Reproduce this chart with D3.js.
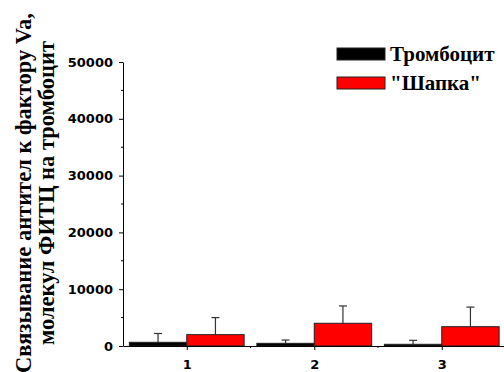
<!DOCTYPE html>
<html>
<head>
<meta charset="utf-8">
<script src="https://cdn.jsdelivr.net/npm/d3@7"></script>
<style>
body { margin: 0; background: #fff; }
svg { display: block; }
.tick text { font-family: "DejaVu Sans", sans-serif; font-weight: bold; font-size: 13px; fill: #000; }
.ytitle, .legend text { font-family: "Liberation Serif", "Times New Roman", serif; font-weight: bold; fill: #000; }
</style>
</head>
<body>
<svg></svg>
<script>
var categories = [1, 2, 3];
var seriesNames = ["Тромбоцит", "\"Шапка\""];
var seriesColors = ["#000000", "#ff0000"];
var plateletMean = [650, 470, 300];
var plateletErr = [1550, 580, 700];
var capMean = [2000, 4000, 3400];
var capErr = [3000, 3050, 3450];
var yTicks = [0, 10000, 20000, 30000, 40000, 50000];
var yTitle = ["Связывание антител к фактору Va,", "молекул ФИТЦ на тромбоцит"];

var W = 504, H = 372;
var svg = d3.select("svg").attr("width", W).attr("height", H);

var x = d3.scaleLinear().domain([0.5, 3.5]).range([123, 505.5]);
var y = d3.scaleLinear().domain([0, 50000]).range([346, 62]);
var barW = 0.45;

var series = [
    { name: seriesNames[0], color: seriesColors[0], mean: plateletMean, err: plateletErr, off: -barW },
    { name: seriesNames[1], color: seriesColors[1], mean: capMean, err: capErr, off: 0 }
];

// error bars first, bars cover the lower half
series.forEach(function (s) {
    var eb = svg.append("g").attr("stroke", "#333").attr("stroke-width", 1.2);
    categories.forEach(function (c, i) {
        var cx = x(c + s.off + barW / 2);
        eb.append("line")
            .attr("x1", cx).attr("x2", cx)
            .attr("y1", y(s.mean[i])).attr("y2", y(s.mean[i] + s.err[i]));
        eb.append("line")
            .attr("x1", cx - 4).attr("x2", cx + 4)
            .attr("y1", y(s.mean[i] + s.err[i])).attr("y2", y(s.mean[i] + s.err[i]));
    });
});

series.forEach(function (s) {
    svg.append("g").selectAll("rect")
        .data(categories)
        .enter().append("rect")
        .attr("x", function (c) { return x(c + s.off); })
        .attr("width", function (c) { return x(c + barW) - x(c); })
        .attr("y", function (c, i) { return y(s.mean[i]); })
        .attr("height", function (c, i) { return y(0) - y(s.mean[i]); })
        .attr("fill", s.color)
        .attr("stroke", "#222")
        .attr("stroke-width", 1);
});

// y axis
var yAxis = svg.append("g")
    .attr("transform", "translate(" + x(0.5) + ",0)")
    .call(d3.axisLeft(y).tickValues(yTicks).tickFormat(d3.format("d"))
        .tickSize(4).tickPadding(6).tickSizeOuter(0));
yAxis.append("g").selectAll("line")
    .data(d3.range(5000, 50000, 10000))
    .enter().append("line")
    .attr("x1", -2).attr("x2", 0)
    .attr("y1", function (d) { return y(d); }).attr("y2", function (d) { return y(d); })
    .attr("stroke", "#000");

// x axis
var xAxis = svg.append("g")
    .attr("transform", "translate(0," + y(0) + ")")
    .call(d3.axisBottom(x).tickValues(categories).tickFormat(d3.format("d")).tickSize(4).tickSizeOuter(0));
xAxis.append("g").selectAll("line")
    .data([1.5, 2.5])
    .enter().append("line")
    .attr("x1", function (d) { return x(d); }).attr("x2", function (d) { return x(d); })
    .attr("y1", 0).attr("y2", 2)
    .attr("stroke", "#000");
xAxis.selectAll(".tick text").attr("dy", "1.2em");
svg.selectAll(".domain").attr("stroke", "#000");

// y title, two lines
svg.append("g")
    .attr("transform", "translate(31,193) rotate(-90)")
    .selectAll("text")
    .data(yTitle)
    .enter().append("text")
    .attr("class", "ytitle")
    .attr("text-anchor", "middle")
    .attr("y", function (d, i) { return i * 23; })
    .attr("font-size", 22.5)
    .text(function (d) { return d; });

// legend
var legend = svg.append("g").attr("class", "legend").attr("transform", "translate(337,48)");
var li = legend.selectAll("g").data(series).enter().append("g")
    .attr("transform", function (d, i) { return "translate(0," + i * 29 + ")"; });
li.append("rect")
    .attr("width", 48).attr("height", 12)
    .attr("fill", function (d) { return d.color; })
    .attr("stroke", "#222");
li.append("text")
    .attr("x", 53).attr("y", 13)
    .attr("font-size", 21)
    .text(function (d) { return d.name; });
</script>
</body>
</html>
